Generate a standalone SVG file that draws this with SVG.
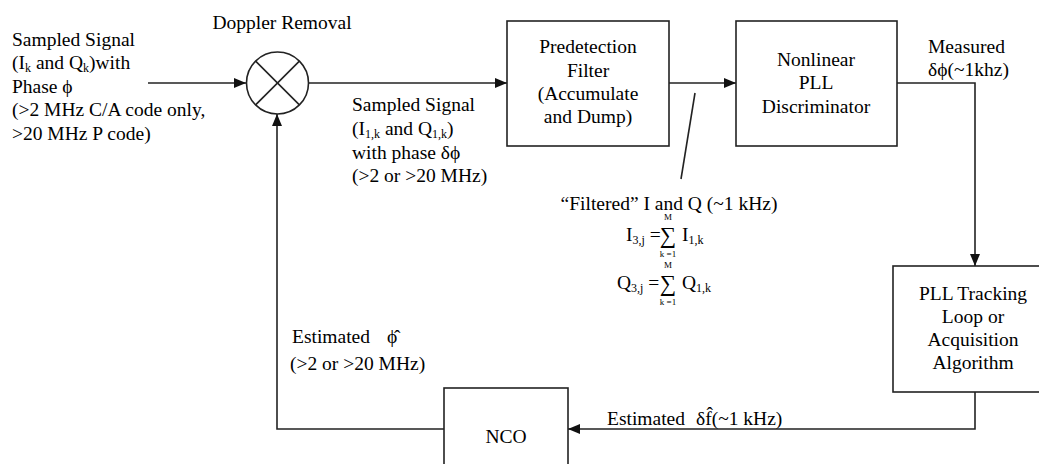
<svg xmlns="http://www.w3.org/2000/svg" width="1039" height="464" viewBox="0 0 1039 464" font-family="'Liberation Serif', 'DejaVu Serif', serif">
<style>
text{font-family:'Liberation Serif','DejaVu Serif',serif;font-size:19.5px;fill:#000}
.c{text-anchor:middle}
.box{fill:#fff;stroke:#222;stroke-width:1.6}
.ln{fill:none;stroke:#222;stroke-width:1.6}
.sub{font-size:12px}
.small{font-size:9px}
.sig{font-size:23px}
</style>
<defs>
<marker id="ah" markerWidth="12" markerHeight="10" refX="12" refY="5" orient="auto" markerUnits="userSpaceOnUse">
<path d="M0,0 L12,5 L0,10 Z" fill="#111"/>
</marker>
</defs>
<rect width="1039" height="464" fill="#fff"/>
<g id="connectors">
<line class="ln" x1="148" y1="83" x2="246" y2="83" marker-end="url(#ah)"/>
<line class="ln" x1="309" y1="83" x2="507" y2="83" marker-end="url(#ah)"/>
<line class="ln" x1="669" y1="83" x2="736" y2="83" marker-end="url(#ah)"/>
<polyline class="ln" points="897,83 975,83 975,266" marker-end="url(#ah)"/>
<polyline class="ln" points="975,392 975,429 568,429" marker-end="url(#ah)"/>
<polyline class="ln" points="444,429 277,429 277,114" marker-end="url(#ah)"/>
<line class="ln" x1="695" y1="93" x2="681" y2="179"/>
</g>
<g id="mixer">
<circle cx="277.5" cy="83" r="31" class="box"/>
<line class="ln" x1="255.6" y1="61.1" x2="299.4" y2="104.9"/>
<line class="ln" x1="299.4" y1="61.1" x2="255.6" y2="104.9"/>
<text x="282" y="29" class="c">Doppler Removal</text>
</g>
<g id="predetection">
<rect x="507" y="21" width="162" height="125" class="box"/>
<text x="588" y="53" class="c">Predetection</text>
<text x="588" y="77" class="c">Filter</text>
<text x="588" y="100" class="c">(Accumulate</text>
<text x="588" y="123" class="c">and Dump)</text>
</g>
<g id="discriminator">
<rect x="736" y="21" width="161" height="125" class="box"/>
<text x="816" y="66" class="c">Nonlinear</text>
<text x="816" y="89" class="c">PLL</text>
<text x="816" y="113" class="c">Discriminator</text>
</g>
<g id="tracking">
<rect x="893" y="266" width="150" height="126" class="box"/>
<text x="973" y="300" class="c">PLL Tracking</text>
<text x="973" y="323" class="c">Loop or</text>
<text x="973" y="346" class="c">Acquisition</text>
<text x="973" y="369" class="c">Algorithm</text>
</g>
<g id="nco">
<rect x="444" y="388" width="124" height="80" class="box"/>
<text x="506" y="443" class="c">NCO</text>
</g>
<g id="labels">
<text x="12" y="46">Sampled Signal</text>
<text x="12" y="69">(I<tspan class="sub" dy="3">k</tspan><tspan dy="-3"> and Q</tspan><tspan class="sub" dy="3">k</tspan><tspan dy="-3">)with</tspan></text>
<text x="12" y="93">Phase ϕ</text>
<text x="12" y="116">(&gt;2 MHz C/A code only,</text>
<text x="12" y="140">&gt;20 MHz P code)</text>

<text x="352" y="111">Sampled Signal</text>
<text x="352" y="135">(I<tspan class="sub" dy="3">1,k</tspan><tspan dy="-3"> and Q</tspan><tspan class="sub" dy="3">1,k</tspan><tspan dy="-3">)</tspan></text>
<text x="352" y="159">with phase δϕ</text>
<text x="352" y="182">(&gt;2 or &gt;20 MHz)</text>

<text x="928" y="53">Measured</text>
<text x="928" y="76">δϕ(~1khz)</text>

<text x="292" y="343">Estimated<tspan x="387">ϕ̂</tspan></text>
<text x="290" y="370">(&gt;2 or &gt;20 MHz)</text>

<text x="607" y="425">Estimated<tspan x="696">δf̂(~1 kHz)</tspan></text>

<text x="669" y="210" class="c">“Filtered” I and Q (~1 kHz)</text>
<text x="626" y="241">I<tspan class="sub" dy="3">3,j</tspan><tspan dy="-3"> =</tspan></text>
<text x="668" y="243" class="c sig">∑</text>
<text x="668" y="220" class="c small">M</text>
<text x="668" y="257" class="c small">k =1</text>
<text x="682" y="241">I<tspan class="sub" dy="3">1,k</tspan></text>
<text x="617" y="289">Q<tspan class="sub" dy="3">3,j</tspan><tspan dy="-3"> =</tspan></text>
<text x="668" y="291" class="c sig">∑</text>
<text x="668" y="268" class="c small">M</text>
<text x="668" y="305" class="c small">k =1</text>
<text x="682" y="289">Q<tspan class="sub" dy="3">1,k</tspan></text>
</g>
</svg>
